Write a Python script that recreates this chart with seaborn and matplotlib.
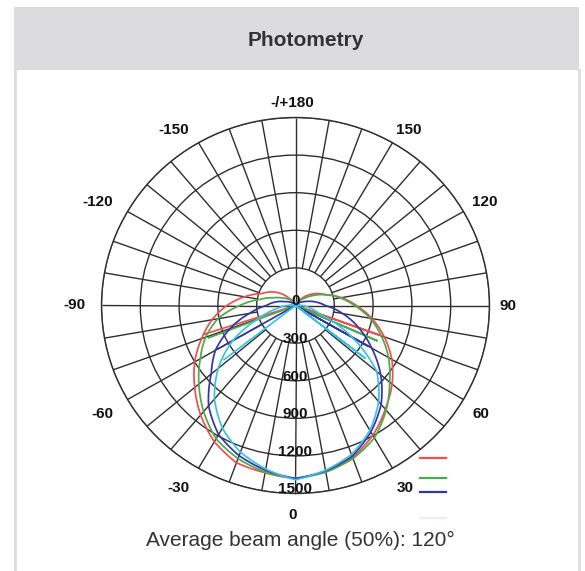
import numpy as np
import pandas as pd
import matplotlib
matplotlib.use("Agg")
import matplotlib.pyplot as plt
from matplotlib.patches import Rectangle
from matplotlib.lines import Line2D
import seaborn as sns

# ---------------- data ----------------
gamma_deg = list(range(-180, 181, 10))

red = [0, 5, 15, 35, 75, 150, 217, 278, 400, 530, 655, 772, 900, 1017, 1141, 1255, 1335, 1355,
       1380,
       1345, 1290, 1196, 1080, 975, 860, 730, 600, 470, 360, 250, 190, 130, 70, 35, 15, 5, 0]
green = [0, 3, 10, 25, 50, 85, 120, 180, 280, 430, 610, 740, 850, 975, 1105, 1228, 1300, 1350,
         1380,
         1350, 1300, 1220, 1090, 950, 830, 705, 585, 455, 350, 250, 160, 90, 50, 25, 10, 3, 0]
blue = [0, 0, 0, 5, 15, 30, 55, 90, 160, 225, 360, 538, 715, 850, 1045, 1189, 1275, 1335,
        1380,
        1340, 1280, 1165, 1030, 860, 680, 520, 370, 230, 160, 95, 55, 30, 15, 5, 0, 0, 0]
cyan = [0, 0, 0, 0, 0, 0, 0, 5, 20, 60, 150, 300, 560, 780, 975, 1130, 1245, 1325,
        1390,
        1335, 1265, 1150, 1000, 820, 505, 200, 110, 50, 20, 5, 0, 0, 0, 0, 0, 0, 0]

# radial return strokes through the centre seen on each curve
chord_deg = {"red": [70, 70, 70, -72, -72], "green": [66, 66, 66, -69, -69],
             "blue": [60, 60, 60, -60, -60], "cyan": [52, 52, 52, -52, -52]}
chord_val = {"red": [0, 700, 0, 0, 740], "green": [0, 690, 0, 0, 720],
             "blue": [0, 650, 0, 0, 690], "cyan": [0, 680, 0, 0, 700]}

series = {"red": red, "green": green, "blue": blue, "cyan": cyan}
colors = {"red": "#ee4f4f", "green": "#4aab4a", "blue": "#3535a5", "cyan": "#38c2e2"}

ring_values = [300, 600, 900, 1200, 1500]
radial_labels = ["0", "300", "600", "900", "1200", "1500"]
theta_tick_deg = list(range(0, 360, 30))
theta_labels = ["0", "30", "60", "90", "120", "150", "-/+180", "-150", "-120", "-90", "-60", "-30"]

title = "Photometry"
caption = "Average beam angle (50%): 120°"

# ---------------- table ----------------
rows = []
for name, vals in series.items():
    order = 0
    for g, v in zip(gamma_deg, vals):
        rows.append({"series": name, "theta": np.deg2rad(g), "value": v, "order": order})
        order += 1
    for g, v in zip(chord_deg[name], chord_val[name]):
        rows.append({"series": name, "theta": np.deg2rad(g), "value": v, "order": order})
        order += 1
df = pd.DataFrame(rows)

# ---------------- figure ----------------
W, H = 585, 571
fig = plt.figure(figsize=(W / 100, H / 100), dpi=100)
fig.patch.set_facecolor("white")

def fx(px):
    return px / W

def fy(py):
    return 1 - py / H

# header band and panel borders
fig.patches.append(Rectangle((fx(14), fy(70)), fx(579) - fx(14), (70 - 7) / H,
                             transform=fig.transFigure, facecolor="#dcdcde",
                             edgecolor="none", zorder=0))
for xb in (15, 578.5):
    fig.lines.append(Line2D([fx(xb), fx(xb)], [fy(70), 0], transform=fig.transFigure,
                            color="#dddddd", lw=2, zorder=0))
fig.text(fx(306), fy(40), title, ha="center", va="center", fontsize=15,
         fontweight="bold", color="#333333", family="Liberation Sans")

cx, cy, Rx, Ry = 295.5, 305.5, 194, 188
ax = fig.add_axes([fx(cx - Rx), fy(cy + Ry), 2 * Rx / W, 2 * Ry / H], projection="polar")
ax.set_aspect("auto")
ax.set_facecolor("white")
ax.set_theta_zero_location("S")
ax.set_theta_direction(1)
ax.set_ylim(0, 1500)

grid_c = "#2e2e2e"
ax.set_yticks(ring_values)
ax.set_yticklabels([])
ax.yaxis.grid(True, color=grid_c, lw=1.0)
ax.xaxis.grid(False)
ax.set_xticks(np.deg2rad(theta_tick_deg))
ax.set_xticklabels([])
ax.tick_params(length=0)
ax.spines["polar"].set_color(grid_c)
ax.spines["polar"].set_linewidth(1.0)

spokes = np.deg2rad(np.arange(0, 360, 10))
ax.vlines(spokes, 300, 1500, colors=grid_c, lw=1.0, zorder=1)
ax.vlines(np.deg2rad([0, 90, 180, 270]), 0, 300, colors=grid_c, lw=1.0, zorder=1)

for name in series:
    sub = df[df["series"] == name].sort_values("order")
    n_before = len(ax.lines)
    sns.lineplot(data=sub, x="theta", y="value", color=colors[name], sort=False,
                 estimator=None, legend=False, ax=ax, lw=1.25, zorder=3)
    for ln in ax.lines[n_before:]:
        # draw segments along the polar grid (linear in angle and radius)
        ln._path._interpolation_steps = 40
        ln.recache_always()
ax.set_xlabel("")
ax.set_ylabel("")
ax.set_ylim(0, 1500)

lab_font = dict(fontsize=11, fontweight="bold", color="#111111", family="Liberation Sans")

# radial labels along the 0° spoke
for v, s in zip([0] + ring_values, radial_labels):
    ax.annotate(s, xy=(0, v), xytext=(0, 3), textcoords="offset points",
                ha="center", va="center", zorder=4, **lab_font)

# angular labels just outside the circle
gap_pt = 9.5
for d, s in zip(theta_tick_deg, theta_labels):
    sx = np.sin(np.deg2rad(d))
    sy = -np.cos(np.deg2rad(d))  # screen up positive
    ha = "left" if sx > 0.1 else ("right" if sx < -0.1 else "center")
    va = "baseline" if sy > 0.1 else ("top" if sy < -0.1 else "center")
    fy_fac = 0.8 if sy > 0 else 1.1
    ax.annotate(s, xy=(np.deg2rad(d), 1500),
                xytext=(gap_pt * sx - 2.0, gap_pt * sy * fy_fac),
                textcoords="offset points", ha=ha, va=va, annotation_clip=False, **lab_font)

# legend strokes
leg_y = [458, 478, 492, 518]
leg_c = [colors["red"], colors["green"], colors["blue"], "#e6f2f2"]
for yy, c in zip(leg_y, leg_c):
    fig.lines.append(Line2D([fx(420), fx(446)], [fy(yy), fy(yy)], transform=fig.transFigure,
                            color=c, lw=1.6))

fig.text(fx(300), fy(540), caption, ha="center", va="center", fontsize=15,
         color="#333333", family="Liberation Sans")

fig.savefig("out.png", dpi=100, facecolor="white")
